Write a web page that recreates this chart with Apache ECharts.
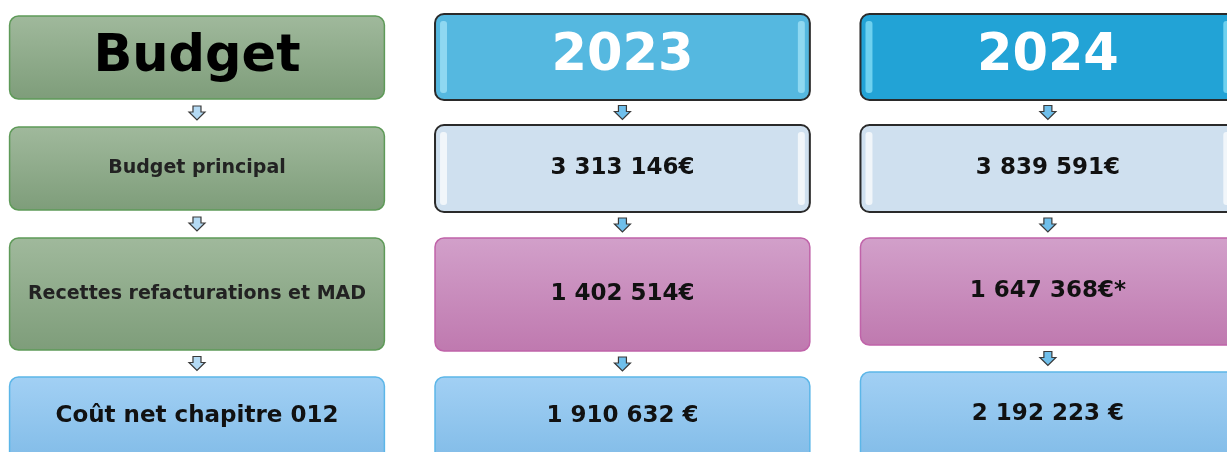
<!DOCTYPE html>
<html>
<head>
<meta charset="utf-8">
<script src="https://cdn.jsdelivr.net/npm/echarts@6/dist/echarts.min.js"></script>
<style>
  html, body { margin: 0; padding: 0; background: #fff; }
</style>
</head>
<body>
<div id="chart" style="width: 1227px;height: 452px"></div>
<script>
  // colonnes et libellés
  const columns = ['Budget', '2023', '2024']
  const rowLabels = ['Budget', 'Budget principal', 'Recettes refacturations et MAD', 'Coût net chapitre 012']
  const years = ['2023', '2024']
  const budgetPrincipal = ['3 313 146€', '3 839 591€'] // budget principal
  const recettes = ['1 402 514€', '1 647 368€*'] // recettes refacturations et MAD
  const coutNet = ['1 910 632 €', '2 192 223 €'] // coût net chapitre 012

  // mise en page verticale des lignes, par colonne (unités de l'axe y)
  const rowTop = [[16, 127, 238, 377], [14, 125, 238, 377], [14, 125, 238, 372]]
  const rowBottom = [[99, 210, 350, 472], [100, 212, 351, 472], [100, 212, 345, 472]]

  const grad = (a, b) => new echarts.graphic.LinearGradient(0, 0, 0, 1, [
    { offset: 0, color: a }, { offset: 1, color: b },
  ])

  function cellText(c, r) {
    if (c === 0) return rowLabels[r]
    if (r === 0) return years[c - 1]
    if (r === 1) return budgetPrincipal[c - 1]
    if (r === 2) return recettes[c - 1]
    return coutNet[c - 1]
  }

  function cellStyle(c, r) {
    if (r === 3) return { fill: grad('#a2d0f4', '#7db9e6'), stroke: '#5cb6e8', lineWidth: 1.5, bevel: false }
    if (c === 0) return { fill: grad('#a0b99c', '#7e9d7a'), stroke: '#5e9a58', lineWidth: 1.5, bevel: false }
    if (r === 0) return { fill: c === 1 ? '#55b8e0' : '#22a3d6', stroke: '#2a2a2a', lineWidth: 2, bevel: true, bevelColor: c === 1 ? '#a8e6f8' : '#8ee4fa' }
    if (r === 1) return { fill: '#cfe0ef', stroke: '#2a2a2a', lineWidth: 2, bevel: true, bevelColor: '#ffffff' }
    return { fill: grad('#d2a0ca', '#bf79af'), stroke: '#c063a9', lineWidth: 1.5, bevel: false }
  }

  function cellFont(c, r) {
    if (c === 0) {
      if (r === 0) return { size: 51, color: '#000' }
      if (r === 3) return { size: 23, color: '#111' }
      return { size: 19, color: '#222' }
    }
    if (r === 0) return { size: 51, color: '#fff' }
    return { size: 23, color: '#111' }
  }

  const cells = []
  const arrows = []
  columns.forEach((col, c) => {
    rowLabels.forEach((lab, r) => {
      cells.push([c, r])
      if (r < rowLabels.length - 1) arrows.push([c, r])
    })
  })

  const chart = echarts.init(document.getElementById('chart'))
  chart.setOption({
    animation: false,
    grid: { left: 0, right: 0, top: 0, bottom: 0 },
    // une colonne = 1 unité ; la dernière colonne déborde à droite
    xAxis: { type: 'value', min: -0.463, max: 2.421, show: false },
    yAxis: { type: 'value', min: 0, max: 452, inverse: true, show: false },
    series: [
      {
        type: 'custom',
        data: cells,
        clip: false,
        renderItem(params, api) {
          const c = api.value(0)
          const r = api.value(1)
          const cx = api.coord([c, 0])[0]
          const w = api.size([0.881, 0])[0]
          const y0 = api.coord([c, rowTop[c][r]])[1]
          const y1 = api.coord([c, rowBottom[c][r]])[1]
          const st = cellStyle(c, r)
          const f = cellFont(c, r)
          const x0 = cx - w / 2
          const children = [{
            type: 'rect',
            shape: { x: x0, y: y0, width: w, height: y1 - y0, r: 9 },
            style: { fill: st.fill, stroke: st.stroke, lineWidth: st.lineWidth },
          }]
          if (st.bevel) {
            [x0 + 5, x0 + w - 12].forEach((bx) => {
              children.push({
                type: 'rect',
                shape: { x: bx, y: y0 + 7, width: 7, height: y1 - y0 - 14, r: 3 },
                style: { fill: st.bevelColor, opacity: 0.7 },
              })
            })
          }
          children.push({
            type: 'text',
            style: {
              text: cellText(c, r),
              x: cx,
              y: (y0 + (r === 3 ? 456 : y1)) / 2,
              align: 'center',
              verticalAlign: 'middle',
              fontSize: f.size,
              fontFamily: '"DejaVu Sans"',
              fontWeight: 'bold',
              fill: f.color,
            },
          })
          return { type: 'group', children }
        },
      },
      {
        type: 'custom',
        data: arrows,
        clip: false,
        renderItem(params, api) {
          const c = api.value(0)
          const r = api.value(1)
          const cx = api.coord([c, 0])[0]
          const mid = api.coord([c, (rowBottom[c][r] + rowTop[c][r + 1]) / 2])[1]
          const top = mid - 7
          const points = [
            [cx - 4, top], [cx + 4, top], [cx + 4, top + 6], [cx + 8, top + 6],
            [cx, top + 14], [cx - 8, top + 6], [cx - 4, top + 6],
          ]
          return {
            type: 'polygon',
            shape: { points },
            style: { fill: c === 0 ? '#b4daf4' : '#6fbfeb', stroke: '#3a3a3a', lineWidth: 1.2 },
          }
        },
      },
    ],
  })
</script>
</body>
</html>
